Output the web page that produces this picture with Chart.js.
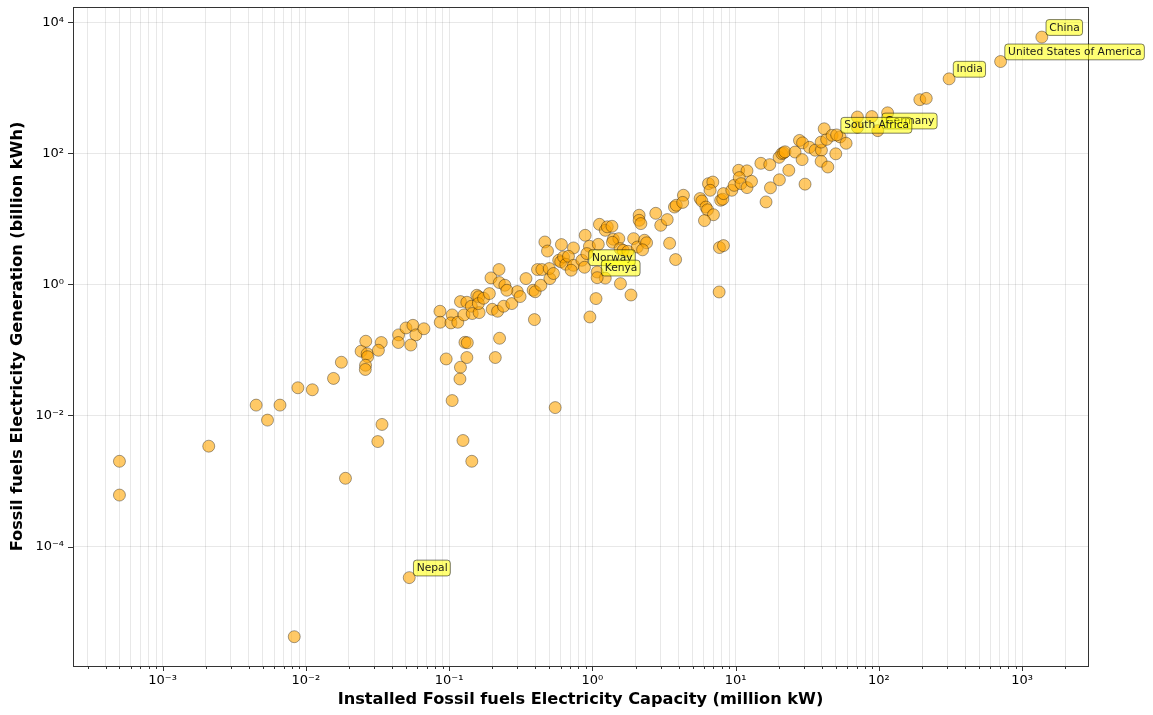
<!DOCTYPE html>
<html>
<head>
<meta charset="utf-8">
<title>Fossil fuels: capacity vs generation</title>
<script src="https://cdn.jsdelivr.net/npm/chart.js@4.4.1/dist/chart.umd.min.js"></script>
<style>
  html, body { margin: 0; padding: 0; background: #ffffff; }
  #wrap { width: 1153px; height: 715px; }
</style>
</head>
<body>
<div id="wrap"><canvas id="chart" width="1153" height="715"></canvas></div>
<script>
// Installed fossil-fuel capacity (million kW) per country
const capacity = [
  0.0005, 0.0005, 0.0021, 0.0045, 0.0054, 0.0066, 0.0088, 0.0111, 0.0083, 0.0156,
  0.0177, 0.0189, 0.0318, 0.034, 0.0243, 0.0262, 0.0268, 0.027, 0.0261, 0.026,
  0.0336, 0.0321, 0.0444, 0.0442, 0.05, 0.0559, 0.0586, 0.054, 0.0667, 0.0863,
  0.0867, 0.105, 0.55, 0.125, 0.144, 0.105, 0.103, 0.115, 0.12, 0.133,
  0.127, 0.143, 0.145, 0.156, 0.161, 0.162, 0.16, 0.174, 0.191, 0.2,
  0.218, 0.24, 0.274, 0.299, 0.313, 0.386, 0.399, 0.437, 0.394, 1.06,
  0.961, 1.57, 1.86, 0.129, 0.134, 0.0954, 0.133, 0.12, 0.119, 0.225,
  0.21, 0.223, 0.196, 0.224, 0.245, 0.253, 0.344, 0.414, 0.444, 0.505,
  0.5, 0.535, 0.466, 0.486, 0.608, 0.582, 0.601, 0.629, 0.653, 0.738,
  0.681, 0.738, 0.711, 0.845, 0.891, 0.954, 0.915, 1.1, 1.12, 1.23,
  1.27, 1.37, 1.4, 1.53, 1.38, 1.56, 1.64, 1.77, 1.94, 2.12,
  2.12, 2.18, 2.06, 2.31, 2.39, 2.24, 2.77, 3.0, 3.33, 3.46,
  3.81, 3.74, 3.85, 4.32, 4.27, 1.08, 1.23, 5.65, 5.81, 6.2,
  6.36, 7.0, 6.06, 6.46, 6.93, 6.64, 7.86, 8.12, 8.22, 9.4,
  9.76, 10.5, 12.0, 10.6, 10.9, 12.0, 12.9, 7.71, 8.22, 7.67,
  15.0, 17.3, 20.1, 21.0, 21.6, 22.1, 23.5, 20.2, 17.5, 16.3,
  26.0, 27.9, 29.3, 32.8, 35.9, 39.7, 29.1, 39.5, 44.0, 30.5,
  50.0, 39.5, 43.2, 41.5, 47.1, 53.6, 59.0, 70.8, 70.8, 89.2,
  115, 193, 214
];

// Fossil-fuel electricity generation (billion kWh), same order as capacity
const generation = [
  0.002, 0.00061, 0.0034, 0.0144, 0.0085, 0.0144, 0.0265, 0.0247, 0.0000042, 0.0368,
  0.065, 0.0011, 0.004, 0.0073, 0.0957, 0.136, 0.0877, 0.0789, 0.0585, 0.0504,
  0.13, 0.099, 0.17, 0.13, 0.217, 0.238, 0.17, 0.119, 0.211, 0.39,
  0.265, 0.0169, 0.0132, 0.00415, 0.002, 0.343, 0.259, 0.265, 0.548, 0.535,
  0.343, 0.465, 0.36, 0.684, 0.649, 0.372, 0.511, 0.616, 0.726, 0.418,
  0.39, 0.465, 0.511, 0.779, 0.654, 0.816, 0.774, 0.972, 0.291, 0.609,
  0.319, 1.03, 0.691, 0.131, 0.129, 0.073, 0.0767, 0.0545, 0.0361, 0.151,
  0.0767, 1.69, 1.26, 1.07, 0.972, 0.816, 1.23, 1.69, 1.69, 1.23,
  1.75, 1.47, 4.45, 3.24, 4.06, 2.34, 2.22, 2.63, 2.03, 3.61,
  2.69, 1.96, 1.65, 2.34, 5.63, 3.83, 2.96, 4.1, 8.28, 6.71,
  7.59, 7.73, 4.9, 5.01, 4.4, 3.53, 3.32, 3.21, 5.01, 11.4,
  9.54, 8.49, 3.73, 4.73, 4.33, 3.38, 12.2, 8.0, 9.78, 4.25,
  2.4, 15.2, 16.2, 23.0, 17.9, 1.55, 1.25, 20.5, 18.8, 15.2,
  13.8, 11.6, 9.44, 34.6, 36.6, 27.4, 19.3, 20.0, 24.4, 27.4,
  32.6, 55.3, 54.3, 42.8, 34.6, 30.1, 37.5, 3.66, 3.92, 0.768,
  70.7, 67.5, 87.3, 99.4, 102, 106, 55.3, 39.6, 29.9, 18.2,
  105, 158, 145, 124, 112, 112, 80.5, 75.8, 62.1, 34.0,
  98.7, 149, 164, 238, 189, 179, 143, 360, 250, 366,
  417, 662, 693
];

// Countries called out with a label
const namedCountries  = ['China', 'United States of America', 'India', 'Germany', 'South Africa', 'Norway', 'Kenya', 'Nepal'];
const namedCapacity   = [1371, 707, 309, 98.2, 50.7, 0.881, 1.08, 0.0527];
const namedGeneration = [5973, 2529, 1376, 223, 192, 1.83, 1.27, 0.0000335];

// Axis ranges and tick labels
const xLimits = [2.37e-4, 2880];
const yLimits = [1.5e-6, 1.72e4];
const xTickValues = [1e-3, 1e-2, 1e-1, 1, 10, 100, 1000];
const xTickLabels = ['10⁻³', '10⁻²', '10⁻¹', '10⁰', '10¹', '10²', '10³'];
const yTickValues = [1e-4, 1e-2, 1, 100, 1e4];
const yTickLabels = ['10⁻⁴', '10⁻²', '10⁰', '10²', '10⁴'];

const FONT = '"DejaVu Sans", "Liberation Sans", sans-serif';
Chart.defaults.font.family = FONT;
Chart.defaults.color = '#000';

// Decade ticks 1..9 x 10^n inside the range; 1 x 10^n is the major one
function decadeTicks(min, max) {
  const out = [];
  for (let e = Math.floor(Math.log10(min)); e <= Math.ceil(Math.log10(max)); e++) {
    for (let m = 1; m <= 9; m++) {
      const v = Number((m * Math.pow(10, e)).toPrecision(12));
      if (v >= min && v <= max) out.push({ value: v, major: m === 1 });
    }
  }
  return out;
}

function labelFor(values, labels, v) {
  for (let i = 0; i < values.length; i++) {
    if (Math.abs(Math.log10(v / values[i])) < 1e-6) return labels[i];
  }
  return '';
}

const points = capacity.map((c, i) => ({ x: c, y: generation[i] }))
  .concat(namedCapacity.map((c, i) => ({ x: c, y: namedGeneration[i] })));

// Tick marks and the four-sided frame around the plot area
const axesFrame = {
  id: 'axesFrame',
  afterDraw(chart) {
    const { ctx, chartArea: a, scales: { x, y } } = chart;
    ctx.save();
    ctx.strokeStyle = '#333';
    ctx.lineWidth = 1;
    ctx.beginPath();
    x.ticks.forEach(t => {
      const px = Math.round(x.getPixelForValue(t.value)) + 0.5;
      const len = t.major ? 5 : 3;
      ctx.moveTo(px, a.bottom);
      ctx.lineTo(px, a.bottom + len);
    });
    y.ticks.forEach(t => {
      const py = Math.round(y.getPixelForValue(t.value)) + 0.5;
      ctx.moveTo(a.left, py);
      ctx.lineTo(a.left - 5, py);
    });
    ctx.stroke();
    ctx.strokeRect(Math.round(a.left) + 0.5, Math.round(a.top) + 0.5,
                   Math.round(a.right - a.left), Math.round(a.bottom - a.top));
    ctx.restore();
  }
};

// Yellow rounded call-out boxes next to the named countries
const countryLabels = {
  id: 'countryLabels',
  afterDraw(chart) {
    const { ctx, scales: { x, y } } = chart;
    ctx.save();
    ctx.font = '10.7px ' + FONT;
    ctx.textBaseline = 'alphabetic';
    ctx.textAlign = 'left';
    namedCountries.forEach((name, i) => {
      const px = x.getPixelForValue(namedCapacity[i]);
      const py = y.getPixelForValue(namedGeneration[i]);
      const tx = px + 7.5, ty = py - 6.5;
      const w = ctx.measureText(name).width;
      const bx = tx - 3.3, by = ty - 11, bw = w + 6, bh = 15.8, r = 3;
      ctx.beginPath();
      ctx.moveTo(bx + r, by);
      ctx.lineTo(bx + bw - r, by);
      ctx.quadraticCurveTo(bx + bw, by, bx + bw, by + r);
      ctx.lineTo(bx + bw, by + bh - r);
      ctx.quadraticCurveTo(bx + bw, by + bh, bx + bw - r, by + bh);
      ctx.lineTo(bx + r, by + bh);
      ctx.quadraticCurveTo(bx, by + bh, bx, by + bh - r);
      ctx.lineTo(bx, by + r);
      ctx.quadraticCurveTo(bx, by, bx + r, by);
      ctx.closePath();
      ctx.fillStyle = 'rgba(255,255,0,0.55)';
      ctx.fill();
      ctx.strokeStyle = 'rgba(0,0,0,0.5)';
      ctx.lineWidth = 1;
      ctx.stroke();
      ctx.fillStyle = '#1a1a1a';
      ctx.fillText(name, tx, ty);
    });
    ctx.restore();
  }
};

new Chart(document.getElementById('chart'), {
  type: 'scatter',
  data: {
    datasets: [{
      data: points,
      pointRadius: 6,
      pointHoverRadius: 6,
      pointBackgroundColor: 'rgba(255,165,0,0.6)',
      pointBorderColor: 'rgba(0,0,0,0.45)',
      pointBorderWidth: 0.8
    }]
  },
  options: {
    responsive: false,
    animation: false,
    events: [],
    layout: { padding: { top: 7, right: 65, left: 0, bottom: 0 } },
    plugins: { legend: { display: false }, tooltip: { enabled: false } },
    scales: {
      x: {
        type: 'logarithmic',
        min: xLimits[0],
        max: xLimits[1],
        bounds: 'data',
        afterBuildTicks: s => { s.ticks = decadeTicks(xLimits[0], xLimits[1]); },
        afterFit: s => { s.height = 49; s.paddingLeft = 0; s.paddingRight = 0; },
        grid: { color: 'rgba(0,0,0,0.09)', lineWidth: 1, drawTicks: false },
        border: { display: false },
        ticks: {
          autoSkip: false, maxRotation: 0, minRotation: 0, padding: 7,
          font: { size: 13 }, color: '#000',
          callback: v => labelFor(xTickValues, xTickLabels, v)
        },
        title: {
          display: true,
          text: 'Installed Fossil fuels Electricity Capacity (million kW)',
          font: { size: 16.2, weight: 'bold' },
          color: '#000',
          padding: { top: 0, bottom: 5 }
        }
      },
      y: {
        type: 'logarithmic',
        min: yLimits[0],
        max: yLimits[1],
        bounds: 'data',
        afterBuildTicks: s => { s.ticks = yTickValues.map(v => ({ value: v, major: true })); },
        afterFit: s => { s.width = 73; s.paddingTop = 0; s.paddingBottom = 0; },
        grid: { color: 'rgba(0,0,0,0.09)', lineWidth: 1, drawTicks: false },
        border: { display: false },
        ticks: {
          autoSkip: false, padding: 9,
          font: { size: 13 }, color: '#000',
          callback: v => labelFor(yTickValues, yTickLabels, v)
        },
        title: {
          display: true,
          text: 'Fossil fuels Electricity Generation (billion kWh)',
          font: { size: 16.2, weight: 'bold' },
          color: '#000',
          padding: { top: 8, bottom: 0 }
        }
      }
    }
  },
  plugins: [axesFrame, countryLabels]
});
</script>
</body>
</html>
